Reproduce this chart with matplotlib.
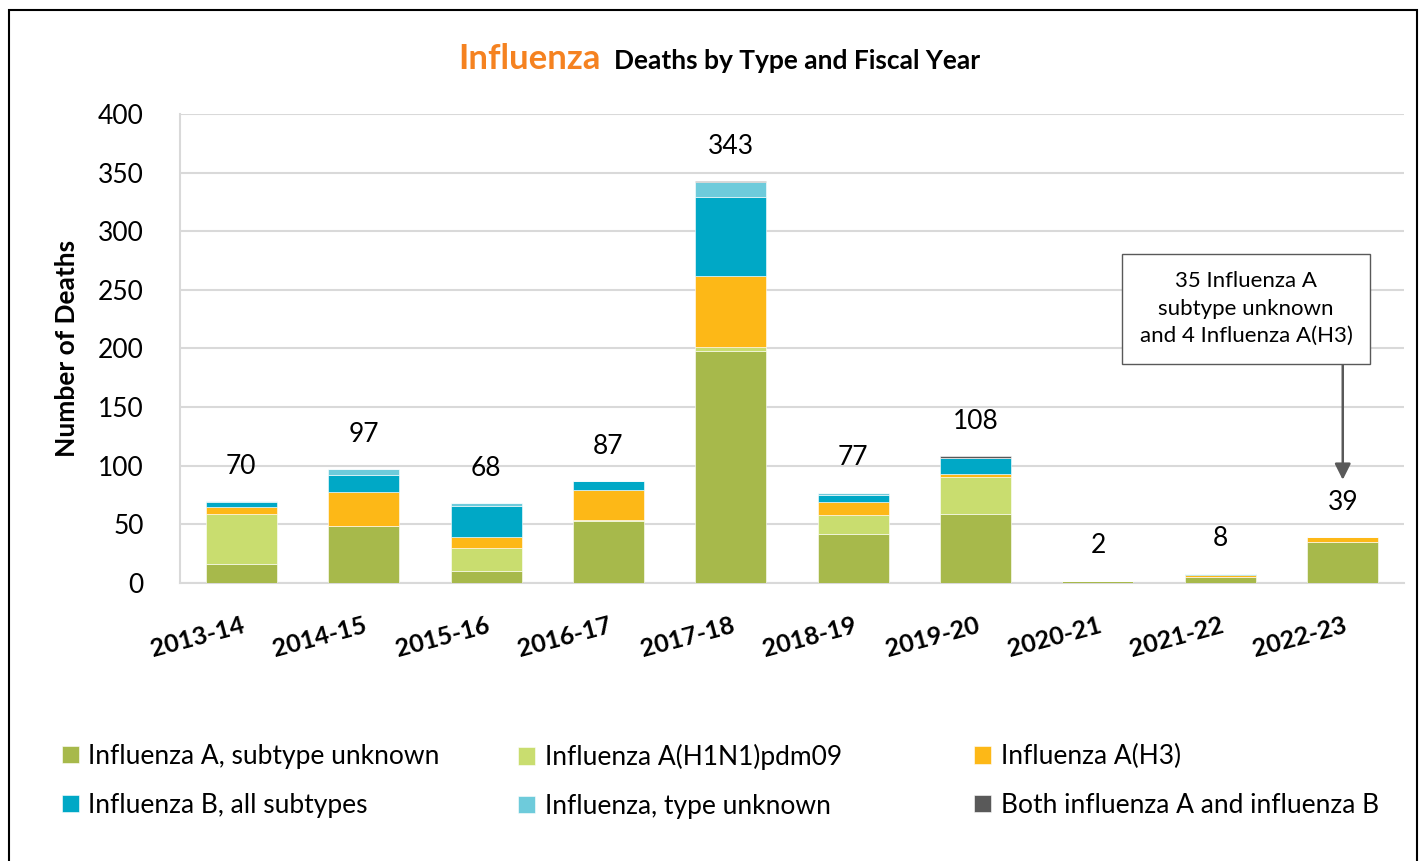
import matplotlib.pyplot as plt
import numpy as np
from matplotlib.patches import Rectangle

plt.rcParams['font.family'] = ['Lato', 'DejaVu Sans']

years = ["2013-14", "2014-15", "2015-16", "2016-17", "2017-18",
         "2018-19", "2019-20", "2020-21", "2021-22", "2022-23"]

a_unknown = [16, 49, 10, 53, 198, 42, 59, 2, 5, 35]
a_h1n1 = [43, 0, 20, 1, 3, 16, 31, 0, 0, 0]
a_h3 = [6, 29, 9, 25, 61, 11, 3, 0, 2, 4]
b_all = [4, 14, 27, 8, 67, 6, 14, 0, 1, 0]
type_unknown = [1, 5, 2, 0, 13, 2, 0, 0, 0, 0]
both_ab = [0, 0, 0, 0, 1, 0, 1, 0, 0, 0]
totals = [70, 97, 68, 87, 343, 77, 108, 2, 8, 39]

series = [
    ("Influenza A, subtype unknown", a_unknown, "#A7B94B"),
    ("Influenza A(H1N1)pdm09", a_h1n1, "#C9DD6F"),
    ("Influenza A(H3)", a_h3, "#FDB817"),
    ("Influenza B, all subtypes", b_all, "#00A8C6"),
    ("Influenza, type unknown", type_unknown, "#6ECBDB"),
    ("Both influenza A and influenza B", both_ab, "#595959"),
]

fig = plt.figure(figsize=(14.2, 8.61), dpi=100)
ax = fig.add_axes([0.1268, 0.3229, 0.8619, 0.5447])

x = np.arange(len(years))
bottom = np.zeros(len(years))
for label, vals, color in series:
    ax.bar(x, vals, 0.58, bottom=bottom, color=color, label=label,
           edgecolor="white", linewidth=0.4, zorder=3)
    bottom += np.array(vals)

for i, t in enumerate(totals):
    ax.annotate(str(t), (x[i], t), xytext=(0, 16), textcoords="offset points",
                ha="center", va="bottom", fontsize=19)

ax.set_xlim(-0.5, len(years) - 0.5)
ax.set_ylim(0, 400)
ax.set_yticks(range(0, 401, 50))
ax.tick_params(axis="y", labelsize=19, length=0, pad=26)
ax.set_xticks(x)
ax.set_xticklabels(years, rotation=15, ha="right", rotation_mode="anchor",
                   fontsize=18, fontweight="bold")
ax.tick_params(axis="x", length=0, pad=22)
for lbl in ax.get_xticklabels():
    lbl.set_x(lbl.get_position()[0])
ax.grid(axis="y", color="#D9D9D9", linewidth=1.5, zorder=0)
for s in ["top", "right"]:
    ax.spines[s].set_visible(False)
for s in ["left", "bottom"]:
    ax.spines[s].set_color("#D9D9D9")
    ax.spines[s].set_linewidth(1.5)
ax.set_ylabel("Number of Deaths", fontsize=19, fontweight="bold", labelpad=14)

# annotation box and separate vertical arrow
ax.text(8.21, 234, "35 Influenza A\nsubtype unknown\nand 4 Influenza A(H3)",
        ha="center", va="center", fontsize=16, linespacing=1.45, zorder=5,
        bbox=dict(boxstyle="square,pad=0.8", fc="white", ec="#595959", lw=1))
ax.annotate("", xy=(9, 88), xytext=(9, 189),
            arrowprops=dict(arrowstyle="-|>", color="#595959", lw=1.8,
                            mutation_scale=24, shrinkA=0, shrinkB=0))

# title
fig.text(0.3225, 0.932, "Influenza", color="#F58220", fontsize=25,
         fontweight="bold", ha="left", va="center")
fig.text(0.690, 0.929, "Deaths by Type and Fiscal Year", color="black",
         fontsize=19, fontweight="bold", ha="right", va="center")

# legend: three columns, each its own legend so they sit at even spacing
handles, labels = ax.get_legend_handles_labels()
col_x = [0.0437, 0.365, 0.686]
for c, idx in enumerate([(0, 3), (1, 4), (2, 5)]):
    fig.legend([handles[i] for i in idx], [labels[i] for i in idx],
               loc="upper left", bbox_to_anchor=(col_x[c], 0.136),
               frameon=False, fontsize=19, handlelength=0.65, handleheight=0.65,
               handletextpad=0.35, labelspacing=0.9, borderpad=0,
               borderaxespad=0)

fig.patches.append(Rectangle((0.006, -0.01), 0.992, 0.998, transform=fig.transFigure,
                             fill=False, ec="black", lw=1.5))

fig.savefig("out.png", dpi=100)
